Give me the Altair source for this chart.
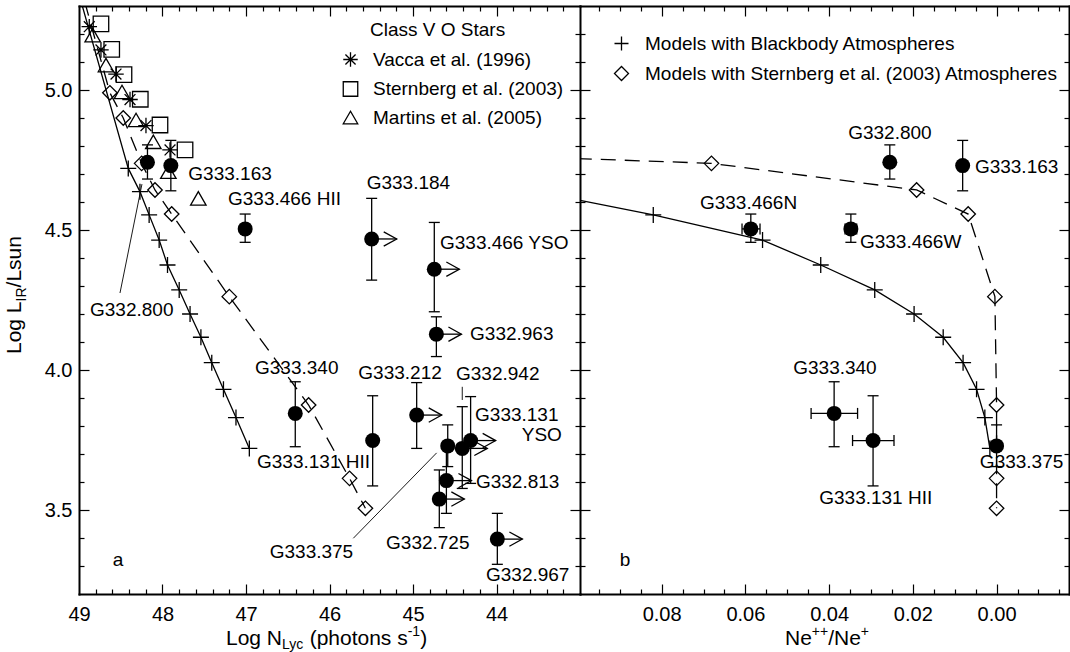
import altair as alt
import pandas as pd

FONT = "Liberation Sans"

# ---------------------------------------------------------------- data
# Class V O-star calibrations (log N_Lyc, log L)
CATALOGS = ["Vacca et al. (1996)", "Sternberg et al. (2003)", "Martins et al. (2005)"]
VACCA_LOGN = [48.877, 48.737, 48.557, 48.389, 48.198, 47.91]
VACCA_LOGL = [5.226, 5.143, 5.057, 4.966, 4.873, 4.786]
STERNBERG_LOGN = [48.737, 48.608, 48.461, 48.266, 48.03, 47.73]
STERNBERG_LOGL = [5.236, 5.145, 5.055, 4.967, 4.875, 4.786]
MARTINS_LOGN = [48.836, 48.677, 48.485, 48.317, 48.11, 47.93, 47.571]
MARTINS_LOGL = [5.196, 5.089, 4.993, 4.893, 4.815, 4.708, 4.613]

# Cluster models: log N_Lyc, log L and predicted Ne++/Ne+
MODELS = ["Models with Blackbody Atmospheres",
          "Models with Sternberg et al. (2003) Atmospheres"]
BB_LOGN = [49.055, 48.41, 48.27, 48.16, 48.04, 47.94, 47.80, 47.67, 47.54, 47.41, 47.27, 47.12, 46.96]
BB_LOGL = [5.40, 4.72, 4.637, 4.554, 4.464, 4.375, 4.286, 4.20, 4.117, 4.026, 3.931, 3.83, 3.72]
BB_RATIO = [0.3, 0.14, 0.11, 0.082, 0.0559, 0.042, 0.0291, 0.0197, 0.01275, 0.008, 0.00478,
            0.0028, 0.0016]
SA_LOGN = [49.01, 48.63, 48.47, 48.25, 48.09, 47.89, 47.20, 46.25, 45.76, 45.57]
SA_LOGL = [5.40, 4.99, 4.90, 4.738, 4.643, 4.557, 4.262, 3.875, 3.613, 3.506]
SA_RATIO = [0.7, 0.5, 0.37, 0.0681, 0.0191, 0.00678, 0.0004, 0.0, 0.0, 0.0]

# Observed sources: log N_Lyc, log L_IR with its range, lower limit on N_Lyc
SRC_NAME = ["G332.800", "G333.163", "G333.466 HII", "G333.184", "G333.466 YSO",
            "G332.963", "G333.340", "G333.131 HII", "G333.212", "G333.375",
            "G332.942", "G333.131 YSO", "G332.813", "G332.725", "G332.967"]
SRC_LOGN = [48.18, 47.90, 47.01, 45.495, 44.745, 44.72, 46.41, 45.483, 44.956,
            44.584, 44.41, 44.31, 44.60, 44.685, 43.99]
SRC_LOGL = [4.742, 4.73, 4.504, 4.468, 4.36, 4.128, 3.845, 3.748, 3.839,
            3.729, 3.72, 3.748, 3.605, 3.539, 3.396]
SRC_LOGL_LO = [4.682, 4.64, 4.456, 4.321, 4.208, 4.048, 3.726, 3.586, 3.720,
               3.655, 3.577, 3.595, 3.488, 3.437, 3.306]
SRC_LOGL_HI = [4.804, 4.82, 4.557, 4.613, 4.527, 4.19, 3.958, 3.908, 3.955,
               3.804, 3.869, 3.905, 3.721, 3.643, 3.488]
SRC_LIMIT = [0, 0, 0, 1, 1, 1, 0, 0, 1, 0, 1, 1, 1, 1, 1]
ARROW_LEN = 0.3

# Sources with neon line ratios
NE_NAME = ["G332.800", "G333.163", "G333.466N", "G333.466W", "G333.340",
           "G333.131 HII", "G333.375"]
NE_RATIO = [0.0255, 0.0081, 0.0587, 0.0348, 0.0388, 0.0295, 0.0]
NE_RATIO_LO = [None, None, 0.0565, 0.0334, 0.0332, 0.0245, None]
NE_RATIO_HI = [None, None, 0.0608, 0.0362, 0.0443, 0.0344, None]
NE_LOGL = [4.742, 4.73, 4.504, 4.504, 3.845, 3.748, 3.729]
NE_LOGL_LO = [4.682, 4.64, 4.456, 4.456, 3.726, 3.586, 3.655]
NE_LOGL_HI = [4.804, 4.82, 4.557, 4.557, 3.958, 3.908, 3.804]

# Source labels (left panel: log N_Lyc, log L of the text start)
LAB_L_TEXT = ["G333.163", "G333.466 HII", "G333.184", "G333.466 YSO", "G332.963",
              "G332.800", "G333.340", "G333.212", "G332.942", "G333.131", "YSO",
              "G333.131 HII", "G332.813", "G333.375", "G332.725", "G332.967"]
LAB_L_LOGN = [47.691, 47.216, 45.555, 44.677, 44.317, 48.868, 46.892, 45.655, 44.485,
              44.257, 43.698, 46.868, 44.246, 46.716, 45.323, 44.126]
LAB_L_LOGL = [4.699, 4.61, 4.669, 4.452, 4.127, 4.214, 4.006, 3.99, 3.986,
              3.839, 3.768, 3.673, 3.601, 3.351, 3.381, 3.268]
# Source labels (right panel)
LAB_R_TEXT = ["G332.800", "G333.163", "G333.466N", "G333.466W", "G333.340",
              "G333.131 HII", "G333.375"]
LAB_R_RATIO = [0.03544, 0.00518, 0.07085, 0.03264, 0.04857, 0.04236, 0.00399]
LAB_R_LOGL = [4.845, 4.726, 4.595, 4.456, 4.006, 3.542, 3.672]

# Leader lines joining labels to sources (left panel)
LEAD_N1 = [48.246, 44.717, 44.41]
LEAD_L1 = [4.664, 3.704, 3.94]
LEAD_N2 = [48.509, 45.715, 44.41]
LEAD_L2 = [4.275, 3.399, 3.893]

# Axis ranges and ticks
LOGN_DOMAIN = [43, 49]
RATIO_DOMAIN = [-0.0173, 0.0995]
LOGL_DOMAIN = [3.2, 5.3]
XL_LABELS = [44, 45, 46, 47, 48, 49]
XR_LABELS = [0.08, 0.06, 0.04, 0.02, 0.0]
Y_LABELS = [3.5, 4.0, 4.5, 5.0]
XL_TICKS = [round(43 + 0.2 * i, 1) for i in range(1, 30)]
XR_TICKS = [round(-0.015 + 0.005 * i, 3) for i in range(0, 23)]
Y_TICKS = [round(3.2 + 0.1 * i, 1) for i in range(1, 21)]

# ---------------------------------------------------------------- layout
W_LEFT, W_RIGHT, H = 501, 489, 588
W = W_LEFT + W_RIGHT

XL = alt.Scale(domain=LOGN_DOMAIN, reverse=True, range=[0, W_LEFT], nice=False, zero=False)
XR = alt.Scale(domain=RATIO_DOMAIN, reverse=True, range=[W_LEFT, W], nice=False, zero=False)
YS = alt.Scale(domain=LOGL_DOMAIN, nice=False, zero=False)

PLUS = "M-1,0L1,0M0,-1L0,1"
ASTER = "M0,-1L0,1M-1,0L1,0M-0.7,-0.7L0.7,0.7M-0.7,0.7L0.7,-0.7"
CHEVRON = "M-1,-0.55L0,0L-1,0.55"
LW = 1.3


def xl(f):
    return alt.X(f"{f}:Q", scale=XL, axis=None)


def xr(f):
    return alt.X(f"{f}:Q", scale=XR, axis=None)


def yy(f):
    return alt.Y(f"{f}:Q", scale=YS, axis=None)


stars = pd.DataFrame({
    "logN": VACCA_LOGN + STERNBERG_LOGN + MARTINS_LOGN,
    "logL": VACCA_LOGL + STERNBERG_LOGL + MARTINS_LOGL,
    "cat": [CATALOGS[0]] * len(VACCA_LOGN) + [CATALOGS[1]] * len(STERNBERG_LOGN)
           + [CATALOGS[2]] * len(MARTINS_LOGN),
})
bb = pd.DataFrame({"logN": BB_LOGN, "logL": BB_LOGL, "ratio": BB_RATIO,
                   "i": range(len(BB_LOGN)), "model": MODELS[0]})
sa = pd.DataFrame({"logN": SA_LOGN, "logL": SA_LOGL, "ratio": SA_RATIO,
                   "i": range(len(SA_LOGN)), "model": MODELS[1]})
src = pd.DataFrame({"name": SRC_NAME, "logN": SRC_LOGN, "L": SRC_LOGL,
                    "lo": SRC_LOGL_LO, "hi": SRC_LOGL_HI, "limit": SRC_LIMIT})
src["tip"] = src["logN"] - ARROW_LEN
arrows = src[src["limit"] == 1]
ne = pd.DataFrame({"name": NE_NAME, "r": NE_RATIO, "rlo": NE_RATIO_LO, "rhi": NE_RATIO_HI,
                   "L": NE_LOGL, "lo": NE_LOGL_LO, "hi": NE_LOGL_HI})
ne_x = ne.dropna(subset=["rlo"])
lab_l = pd.DataFrame({"t": LAB_L_TEXT, "logN": LAB_L_LOGN, "logL": LAB_L_LOGL})
lab_r = pd.DataFrame({"t": LAB_R_TEXT, "r": LAB_R_RATIO, "logL": LAB_R_LOGL})
lead = pd.DataFrame({"n1": LEAD_N1, "l1": LEAD_L1, "n2": LEAD_N2, "l2": LEAD_L2})
panel = pd.DataFrame({"n1": [LOGN_DOMAIN[1]], "n2": [LOGN_DOMAIN[0]],
                      "l1": [LOGL_DOMAIN[0]], "l2": [LOGL_DOMAIN[1]]})

R_MAX = RATIO_DOMAIN[1]
IN_LEFT = f"datum.logL <= {LOGL_DOMAIN[1]} && datum.logN <= {LOGN_DOMAIN[1]}"

layers = []

# model tracks in the Ne ratio panel (their off-scale part is hidden under the left panel)
layers.append(alt.Chart(bb).mark_line(color="black", strokeWidth=LW, clip=True).encode(
    x=xr("ratio"), y=yy("logL"), order="i:Q"))
layers.append(alt.Chart(sa).mark_line(color="black", strokeWidth=LW, strokeDash=[15, 9], clip=True).encode(
    x=xr("ratio"), y=yy("logL"), order="i:Q"))
layers.append(alt.Chart(panel).mark_rect(color="white").encode(
    x=alt.X("n1:Q", scale=XL, axis=None), x2="n2", y=alt.Y("l1:Q", scale=YS, axis=None), y2="l2"))

# model tracks in the luminosity panel
layers.append(alt.Chart(bb).mark_line(color="black", strokeWidth=LW, clip=True).encode(
    x=xl("logN"), y=yy("logL"), order="i:Q"))
layers.append(alt.Chart(sa).mark_line(color="black", strokeWidth=LW, strokeDash=[15, 9], clip=True).encode(
    x=xl("logN"), y=yy("logL"), order="i:Q"))

# leader lines
layers.append(alt.Chart(lead).mark_rule(color="black", strokeWidth=0.9).encode(
    x=xl("n1"), x2="n2", y=yy("l1"), y2="l2"))

# error bars and lower-limit arrows, left panel
layers.append(alt.Chart(src).mark_rule(color="black", strokeWidth=LW).encode(
    x=xl("logN"), y=yy("lo"), y2="hi"))
layers.append(alt.Chart(src).transform_fold(["lo", "hi"], as_=["end", "v"]).mark_tick(
    orient="horizontal", size=11, thickness=LW, color="black", opacity=1).encode(
    x=xl("logN"), y=yy("v")))
layers.append(alt.Chart(arrows).mark_rule(color="black", strokeWidth=LW).encode(
    x=xl("logN"), x2="tip", y=yy("L")))
layers.append(alt.Chart(arrows).mark_point(shape=CHEVRON, size=676, filled=False, color="black",
                                           strokeWidth=LW, opacity=1).encode(
    x=xl("tip"), y=yy("L")))

# error bars, right panel
layers.append(alt.Chart(ne).mark_rule(color="black", strokeWidth=LW).encode(
    x=xr("r"), y=yy("lo"), y2="hi"))
layers.append(alt.Chart(ne).transform_fold(["lo", "hi"], as_=["end", "v"]).mark_tick(
    orient="horizontal", size=11, thickness=LW, color="black", opacity=1).encode(
    x=xr("r"), y=yy("v")))
layers.append(alt.Chart(ne_x).mark_rule(color="black", strokeWidth=LW).encode(
    x=xr("rlo"), x2="rhi", y=yy("L")))
layers.append(alt.Chart(ne_x).transform_fold(["rlo", "rhi"], as_=["end", "v"]).mark_tick(
    orient="vertical", size=11, thickness=LW, color="black", opacity=1).encode(
    x=xr("v"), y=yy("L")))

# O-star calibrations with their legend
layers.append(alt.Chart(stars).mark_point(filled=False, color="black", size=240,
                                          strokeWidth=LW, opacity=1, clip=True).encode(
    x=xl("logN"), y=yy("logL"),
    shape=alt.Shape("cat:N", scale=alt.Scale(domain=CATALOGS, range=[ASTER, "square", "triangle-up"]),
                    legend=alt.Legend(title=None, orient="none", legendX=262, legendY=44,
                                      labelFont=FONT, labelFontSize=19, labelColor="black",
                                      labelLimit=600, labelOffset=13, rowPadding=8.5,
                                      symbolSize=210, symbolStrokeWidth=LW,
                                      symbolStrokeColor="black", padding=0))))

# model points, left panel (blackbody layer carries the model legend)
layers.append(alt.Chart(bb).transform_filter(IN_LEFT).mark_point(
    filled=False, color="black", size=256, strokeWidth=LW, opacity=1, clip=True).encode(
    x=xl("logN"), y=yy("logL"),
    shape=alt.Shape("model:N", scale=alt.Scale(domain=MODELS, range=[PLUS, "diamond"]),
                    legend=alt.Legend(title=None, orient="none", legendX=533, legendY=28,
                                      labelFont=FONT, labelFontSize=19, labelColor="black",
                                      labelLimit=600, labelOffset=14, rowPadding=9,
                                      symbolSize=196, symbolStrokeWidth=LW,
                                      symbolStrokeColor="black", padding=0))))
layers.append(alt.Chart(sa).transform_filter(IN_LEFT).mark_point(
    shape="diamond", filled=False, color="black", size=210, strokeWidth=LW, opacity=1,
    clip=True).encode(x=xl("logN"), y=yy("logL")))
# model points, right panel
layers.append(alt.Chart(bb).transform_filter(f"datum.ratio <= {R_MAX}").mark_point(
    shape=PLUS, filled=False, color="black", size=256, strokeWidth=LW, opacity=1).encode(
    x=xr("ratio"), y=yy("logL")))
layers.append(alt.Chart(sa).transform_filter(f"datum.ratio <= {R_MAX}").mark_point(
    shape="diamond", filled=False, color="black", size=210, strokeWidth=LW, opacity=1).encode(
    x=xr("ratio"), y=yy("logL")))

# observed sources
layers.append(alt.Chart(src).mark_point(shape="circle", filled=True, color="black", size=225,
                                        opacity=1).encode(x=xl("logN"), y=yy("L")))
layers.append(alt.Chart(ne).mark_point(shape="circle", filled=True, color="black", size=225,
                                       opacity=1).encode(x=xr("r"), y=yy("L")))

# source names
layers.append(alt.Chart(lab_l).mark_text(align="left", baseline="middle", font=FONT, fontSize=19,
                                         color="black").encode(x=xl("logN"), y=yy("logL"), text="t:N"))
layers.append(alt.Chart(lab_r).mark_text(align="left", baseline="middle", font=FONT, fontSize=19,
                                         color="black").encode(x=xr("r"), y=yy("logL"), text="t:N"))

# ---------------------------------------------------------------- axes (ticks point inward)
TEST_L = "abs(datum.value - round(datum.value)) < 0.01"
TEST_R = "abs(datum.value * 50 - round(datum.value * 50)) < 0.01"
TEST_Y = "abs(datum.value * 2 - round(datum.value * 2)) < 0.01"


def tick_axis(orient, offset, values, test, domain=False):
    return alt.Axis(orient=orient, offset=offset, values=values, labels=False, title=None,
                    grid=False, domain=domain, domainColor="black", domainWidth=2,
                    domainCap="square", ticks=True, tickColor="black", tickWidth=1.2,
                    tickSize={"condition": {"test": test, "value": 10}, "value": 5}, zindex=1)


def label_axis(orient, values, fmt, pad):
    return alt.Axis(orient=orient, values=values, format=fmt, labelFont=FONT, labelFontSize=20,
                    labelColor="black", labelPadding=pad, labelFlush=False, labelOverlap=False,
                    ticks=False, tickSize=0, domain=True, domainColor="black", domainWidth=2,
                    domainCap="square", grid=False, title=None, zindex=1)


anchor = pd.DataFrame({"n": [46.0], "r": [0.04], "L": [4.0]})


def axis_layer(xf, xs, xa, ya):
    y = alt.Y("L:Q", scale=YS, axis=ya) if ya is not None else alt.Y("L:Q", scale=YS, axis=None)
    return alt.Chart(anchor).mark_point(opacity=0).encode(
        x=alt.X(f"{xf}:Q", scale=xs, axis=xa), y=y)


layers += [
    axis_layer("n", XL, label_axis("bottom", XL_LABELS, "d", 10),
               label_axis("left", Y_LABELS, ".1f", 7)),
    axis_layer("n", XL, tick_axis("top", -H, XL_TICKS, TEST_L),
               tick_axis("right", -W, Y_TICKS, TEST_Y)),
    axis_layer("n", XL, tick_axis("bottom", -H, XL_TICKS, TEST_L, domain=True),
               tick_axis("left", -W_LEFT, Y_TICKS, TEST_Y, domain=True)),
    axis_layer("r", XR, label_axis("bottom", XR_LABELS, ".2f", 10),
               tick_axis("right", -W_RIGHT, Y_TICKS, TEST_Y)),
    axis_layer("r", XR, tick_axis("top", -H, XR_TICKS, TEST_R),
               tick_axis("left", -W, Y_TICKS, TEST_Y, domain=True)),
    axis_layer("r", XR, tick_axis("bottom", -H, XR_TICKS, TEST_R, domain=True), None),
]

# ---------------------------------------------------------------- titles and panel tags
AW = {"L": 556, "o": 556, "g": 556, " ": 278, "N": 722, "y": 500, "c": 500, "(": 333,
      "p": 556, "h": 556, "t": 278, "n": 556, "s": 500, ")": 333, "-": 333, "1": 556,
      "e": 556, "+": 584, "/": 278, "I": 278, "R": 722, "u": 556}


def tw(s, fs):
    return sum(AW[c] for c in s) * fs / 1000.0


one = pd.DataFrame({"k": [0]})


def text_run(pieces, x0, y0, vertical=False):
    """Lay out a title from pieces (text, font size, baseline shift)."""
    out = []
    pos = 0.0
    for s, fs, shift in pieces:
        lead_ws = len(s) - len(s.lstrip(" "))
        pos += tw(" " * lead_ws, fs)
        s = s.lstrip(" ")
        if vertical:
            px, py, ang = x0 + shift, y0 - pos, 270
        else:
            px, py, ang = x0 + pos, y0 + shift, 0
        out.append(alt.Chart(one).mark_text(text=s, fontSize=fs, font=FONT, color="black",
                                            align="left", baseline="alphabetic", angle=ang).encode(
            x=alt.value(px), y=alt.value(py)))
        pos += tw(s, fs)
    return out


layers += text_run([("Log N", 21, 0), ("Lyc", 14, 4), (" (photons s", 21, 0), ("-1", 14, -9),
                    (")", 21, 0)], 147, 639)
layers += text_run([("Ne", 21, 0), ("++", 14, -9), ("/Ne", 21, 0), ("+", 14, -9)], 706, 639)
layers += text_run([("Log L", 21, 0), ("IR", 14, 5), ("/Lsun", 21, 0)], -58, 348, vertical=True)


def tag(s, px, py, align="left"):
    return alt.Chart(one).mark_text(text=s, fontSize=19, font=FONT, color="black", align=align,
                                    baseline="middle").encode(x=alt.value(px), y=alt.value(py))


layers += [tag("Class V O Stars", 291, 24), tag("a", 39, 554, "center"), tag("b", 546, 554, "center")]

chart = alt.layer(*layers).resolve_scale(
    x="independent", shape="independent"
).resolve_axis(
    x="independent", y="independent"
).properties(
    width=W, height=H, background="white",
    autosize=alt.AutoSizeParams(type="none"),
    padding={"left": 79, "top": 6, "right": 1, "bottom": 58},
).configure_view(stroke=None)

chart.save("out.html", embed_options={"renderer": "svg", "actions": False})
